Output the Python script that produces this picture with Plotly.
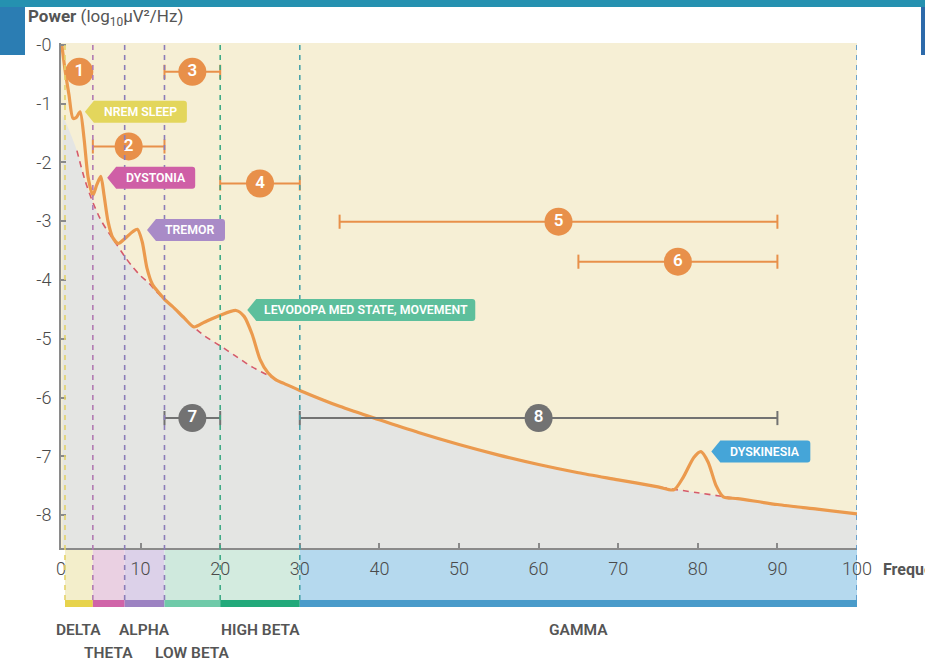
import plotly.graph_objects as go

# ---------------- data ----------------
# aperiodic (1/f) baseline
base_freq = [0.2, 1, 2, 3, 4, 5, 6, 7, 8, 9, 10, 11, 12, 13, 14, 16, 18, 20, 22, 24, 26, 28, 30,
             35, 40, 45, 50, 55, 60, 65, 70, 75, 80, 85, 90, 95, 100]
base_power = [-1.2, -1.45, -1.8, -2.3, -2.68, -2.98, -3.2, -3.4, -3.6, -3.78, -3.93, -4.05, -4.2,
              -4.33, -4.45, -4.72, -4.95, -5.12, -5.3, -5.48, -5.62, -5.76, -5.88,
              -6.15, -6.38, -6.6, -6.8, -6.98, -7.14, -7.28, -7.4, -7.52, -7.62, -7.72, -7.82, -7.9, -7.98]

# full power spectrum (with peaks)
psd_freq = [0.1, 0.5, 1.0, 1.5, 1.9, 2.4, 2.9, 3.4, 4.0, 4.5, 5.0, 5.4, 5.9, 6.5, 7.2, 8.0, 9.0, 9.6,
            10.2, 10.8, 11.5, 12.5, 13, 14, 15.5, 16.7, 18, 20, 22, 23, 24, 25, 26, 27, 28, 30,
            35, 40, 45, 50, 55, 60, 65, 70, 75, 77, 78.2, 79.5, 80.4, 81.3, 82.3, 83.2, 85, 90, 95, 100]
psd_power = [0.0, -0.42, -0.85, -1.25, -1.24, -1.14, -1.6, -2.25, -2.56, -2.38, -2.24, -2.55, -3.0,
             -3.28, -3.38, -3.3, -3.18, -3.14, -3.35, -3.8, -4.08, -4.25, -4.33, -4.45, -4.65, -4.8,
             -4.72, -4.6, -4.52, -4.62, -4.92, -5.35, -5.58, -5.7, -5.76, -5.88,
             -6.15, -6.38, -6.6, -6.8, -6.98, -7.14, -7.28, -7.4, -7.52, -7.57, -7.35, -7.02, -6.92,
             -7.1, -7.5, -7.69, -7.72, -7.82, -7.9, -7.98]

# frequency bands
band_names = ["DELTA", "THETA", "ALPHA", "LOW BETA", "HIGH BETA", "GAMMA"]
band_edges = [0.5, 4, 8, 13, 20, 30, 100]

# numbered ranges (brackets)
bracket_ids = ["2", "3", "4", "5", "6", "7", "8"]
bracket_start = [4, 13, 20, 35, 65, 13, 30]
bracket_end = [13, 20, 30, 90, 90, 20, 90]
bracket_level = [-1.73, -0.46, -2.36, -3.01, -3.69, -6.35, -6.35]
bracket_kind = ["o", "o", "o", "o", "o", "g", "g"]

# standalone marker
single_id = ["1"]
single_x = [2.3]
single_y = [-0.46]

# peak callouts
callout_text = ["NREM SLEEP", "DYSTONIA", "TREMOR", "LEVODOPA MED STATE, MOVEMENT", "DYSKINESIA"]
callout_x = [3.0, 5.8, 10.8, 23.4, 81.7]
callout_y = [-1.14, -2.26, -3.15, -4.51, -6.92]

y_ticks = [0, -1, -2, -3, -4, -5, -6, -7, -8]
y_ticktext = ["-0", "-1", "-2", "-3", "-4", "-5", "-6", "-7", "-8"]
x_ticks = [0, 10, 20, 30, 40, 50, 60, 70, 80, 90, 100]

# ---------------- styles ----------------
W, H = 925, 663
ML, MR, MT, MB = 61, 68, 43, 115
PW, PH = W - ML - MR, H - MT - MB
Y_MIN, Y_MAX = -8.56, 0.03

def pxx(px):
    return (px - ML) / PW

def pxy(py):
    return (H - MB - py) / PH

FONT = "Roboto"
TAN = "#f6efd5"
GRAY_FILL = "#e4e5e3"
ORANGE = "#eb9a4e"
BR_ORANGE = "#e8904a"
BR_GRAY = "#727272"
TXT = "#4a4a4a"

band_light = ["#f3eecb", "#ead0e2", "#dcd1e9", "#cfe9dd", "#d3ebdf", "#b5d9ee"]
band_dark = ["#e7d34c", "#d064a8", "#9c82c2", "#6fcaa9", "#22a97a", "#4a9bca"]
band_label_row = [0, 1, 0, 1, 0, 0]
vline_colors = ["#e3d36a", "#b27bb2", "#8b7cb8", "#8b7cb8", "#3fab86", "#4aa3aa", "#4a90c8"]
callout_colors = ["#e3d65c", "#cf5fa6", "#a98bc7", "#5dbf9c", "#45a5d8"]
callout_width = [102, 88, 78, 228, 99]

fig = go.Figure()

# gray area under aperiodic baseline
fig.add_trace(go.Scatter(x=[base_freq[0], base_freq[-1]], y=[Y_MIN, Y_MIN], mode="lines",
                         line=dict(width=0), hoverinfo="skip", showlegend=False))
fig.add_trace(go.Scatter(x=base_freq, y=base_power, mode="lines", fill="tonexty",
                         fillcolor=GRAY_FILL, line=dict(width=0, shape="spline", smoothing=0.8),
                         hoverinfo="skip", showlegend=False))

# dashed aperiodic baseline
dash_x = [f for f in base_freq if f >= 1.5]
dash_y = [p for f, p in zip(base_freq, base_power) if f >= 1.5]
fig.add_trace(go.Scatter(x=dash_x, y=dash_y, mode="lines",
                         line=dict(color="#d65a6a", width=1.6, dash="6px,5px", shape="spline", smoothing=0.8),
                         hoverinfo="skip", showlegend=False))

# power spectrum
fig.add_trace(go.Scatter(x=psd_freq, y=psd_power, mode="lines",
                         line=dict(color=ORANGE, width=3.2, shape="spline", smoothing=0.7),
                         hoverinfo="skip", showlegend=False))

# brackets
CAP = 0.12
for kind in ["o", "g"]:
    bx, by = [], []
    for s, e, lv, k in zip(bracket_start, bracket_end, bracket_level, bracket_kind):
        if k != kind:
            continue
        bx += [s, s, None, s, e, None, e, e, None]
        by += [lv - CAP, lv + CAP, None, lv, lv, None, lv - CAP, lv + CAP, None]
    fig.add_trace(go.Scatter(x=bx, y=by, mode="lines",
                             line=dict(color=BR_ORANGE if kind == "o" else BR_GRAY, width=2),
                             hoverinfo="skip", showlegend=False))

# numbered circles
cx = single_x + [(s + e) / 2 for s, e in zip(bracket_start, bracket_end)]
cy = single_y + bracket_level
ct = single_id + bracket_ids
cc = [BR_ORANGE] + [BR_ORANGE if k == "o" else BR_GRAY for k in bracket_kind]
fig.add_trace(go.Scatter(x=cx, y=cy, mode="markers+text", text=ct, textposition="middle center",
                         marker=dict(size=28, color=cc, line=dict(width=0)),
                         textfont=dict(family=FONT, size=17, color="white", weight=600),
                         hoverinfo="skip", showlegend=False))

shapes = []
annotations = []

# band strips below the axis
for i, name in enumerate(band_names):
    x0, x1 = band_edges[i], band_edges[i + 1]
    shapes.append(dict(type="rect", xref="x", yref="paper", x0=x0, x1=x1, y0=pxy(600), y1=pxy(548),
                       fillcolor=band_light[i], line=dict(width=0), layer="below"))
    shapes.append(dict(type="rect", xref="x", yref="paper", x0=x0, x1=x1, y0=pxy(607), y1=pxy(600),
                       fillcolor=band_dark[i], line=dict(width=0), layer="below"))
    row_y = pxy(630) if band_label_row[i] == 0 else pxy(653)
    annotations.append(dict(x=(x0 + x1) / 2, y=row_y, xref="x", yref="paper", text=name,
                            showarrow=False, xanchor="center", yanchor="middle",
                            font=dict(family=FONT, size=15.5, color="#555555", weight=600)))

# vertical dashed boundaries
for xe, col in zip(band_edges, vline_colors):
    shapes.append(dict(type="line", xref="x", yref="paper", x0=xe, x1=xe, y0=pxy(600), y1=1,
                       line=dict(color=col, width=1.6, dash="5px,5px"), layer="above"))

# callouts
for t, x, y, c, w in zip(callout_text, callout_x, callout_y, callout_colors, callout_width):
    shapes.append(dict(type="path", xref="x", yref="y", xsizemode="pixel", ysizemode="pixel",
                       xanchor=x, yanchor=y,
                       path=f"M0,0 L9,11 L{w - 3},11 Q{w},11 {w},8 L{w},-8 Q{w},-11 {w - 3},-11 L9,-11 Z",
                       fillcolor=c, line=dict(width=0), layer="above"))
    annotations.append(dict(x=x, y=y, xref="x", yref="y", text=t, showarrow=False,
                            xanchor="center", yanchor="middle", xshift=9 + (w - 9) / 2,
                            font=dict(family=FONT, size=12.3, color="white", weight=600)))

# page decoration
shapes.append(dict(type="rect", xref="paper", yref="paper", x0=pxx(0), x1=pxx(25), y0=pxy(55), y1=pxy(0),
                   fillcolor="#2b7db3", line=dict(width=0), layer="above"))
shapes.append(dict(type="rect", xref="paper", yref="paper", x0=pxx(921), x1=pxx(925), y0=pxy(55), y1=pxy(0),
                   fillcolor="#2d6aaa", line=dict(width=0), layer="above"))
shapes.append(dict(type="rect", xref="paper", yref="paper", x0=pxx(0), x1=pxx(925), y0=pxy(7), y1=pxy(0),
                   fillcolor="#2591b0", line=dict(width=0), layer="above"))

# axis titles
annotations.append(dict(x=pxx(26), y=pxy(18), xref="paper", yref="paper",
                        text="<b>Power</b> (log<sub>10</sub>μV²/Hz)", showarrow=False,
                        xanchor="left", yanchor="middle",
                        font=dict(family=FONT, size=17, color="#555555")))
annotations.append(dict(x=pxx(881), y=pxy(569), xref="paper", yref="paper",
                        text="<b>Frequency (Hz)</b>", showarrow=False,
                        xanchor="left", yanchor="middle",
                        font=dict(family=FONT, size=16, color="#555555")))

fig.update_layout(
    width=W, height=H,
    margin=dict(l=ML, r=MR, t=MT, b=MB),
    paper_bgcolor="white",
    plot_bgcolor=TAN,
    showlegend=False,
    shapes=shapes,
    annotations=annotations,
    xaxis=dict(range=[0, 100], tickvals=x_ticks, showgrid=False, zeroline=False,
               showline=True, linecolor="#8a8a8a", linewidth=2,
               ticks="inside", ticklen=5, tickcolor="#8a8a8a", tickwidth=1.5,
               ticklabelstandoff=3,
               tickfont=dict(family=FONT, size=18, color=TXT, weight=300)),
    yaxis=dict(range=[Y_MIN, Y_MAX], tickvals=y_ticks, ticktext=y_ticktext, showgrid=False,
               zeroline=False, showline=True, linecolor="#8a8a8a", linewidth=2,
               ticks="inside", ticklen=5, tickcolor="#8a8a8a", tickwidth=1.5,
               ticklabelstandoff=4,
               tickfont=dict(family=FONT, size=18, color=TXT, weight=300)),
)

fig.write_html("out.html")
